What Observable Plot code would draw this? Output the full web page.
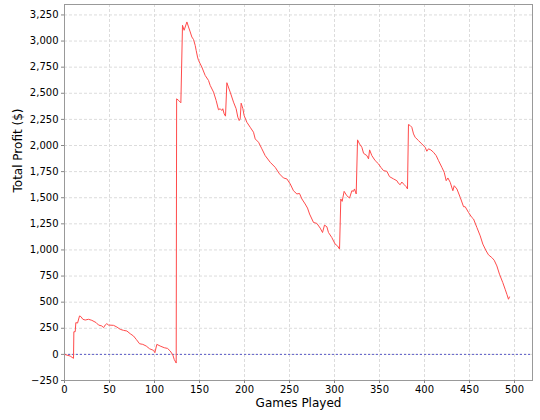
<!DOCTYPE html>
<html>
<head>
<meta charset="utf-8">
<script src="https://cdn.jsdelivr.net/npm/d3@7"></script>
<script src="https://cdn.jsdelivr.net/npm/@observablehq/plot@0.6"></script>
<style>
  html, body { margin: 0; padding: 0; background: #fff; }
  #chart { width: 540px; height: 420px; }
</style>
</head>
<body>
<div id="chart"></div>
<script>
const games = [0,6.3,10,10.4,11.9,12.6,14.5,16.7,18.2,20.4,23,26.7,30.4,35.2,37.8,41.5,43.4,45.2,47,48.9,54.5,58.2,61.9,65.6,69.3,73,76.7,79.7,83.4,87,90.8,94.5,99,100.4,102.6,106.3,110.8,114.5,117.5,120.4,121.9,124.1,
  124.6,127,129.3,131.1,132.9,136,137.8,139.7,141.5,143.4,145.2,146.3,147.8,148.9,152.6,156.3,160,161.9,165.6,168.5,171.1,173,174.8,175.9,177.4,178.9,180.4,184.1,187.8,190.7,192.6,194.1,195.2,196.3,198.2,199.6,202.6,206.3,210,211.9,215.6,219.3,223,228.6,234.1,238.9,243.3,247.1,250.8,254.4,258.2,261.1,263.8,267.4,270,272.3,276.7,280.4,284.1,286.7,288.9,291.5,293.3,297,300.7,303.3,305.6,
  307,308.5,310.7,313.7,316.7,319.3,321.1,322.2,324.1,325.6,327.8,330.4,332.3,336,337.8,339,341.5,345.2,348.9,351.5,354.5,358.2,361.1,365.6,369.3,371.1,373,374.8,377.4,379.6,381.1,
  382.2,384.1,385.9,387.8,389.6,393.3,397,400.7,402.6,404.4,407,410,413,415.6,419.3,421.9,424.1,426,428.6,431.5,433,436,439.7,443.4,445.2,448.9,452.6,454.5,458.2,461.9,464.8,468.5,471.1,474.8,477.4,480.4,483.3,487,489.6,491.5,493.3,494.4];
const profit = [0,-16,-38,217,217,304,300,368,362,336,329,336,326,304,281,272,256,281,294,281,278,262,240,230,224,198,176,144,102,96,80,54,38,16,96,80,64,57,32,-6,-48,-83,
  2447,2430,2409,3151,3103,3183,3135,3087,3039,3014,2959,2911,2847,2815,2751,2671,2623,2575,2511,2431,2342,2352,2335,2352,2303,2281,2601,2511,2415,2352,2271,2239,2255,2405,2352,2287,2223,2175,2127,2063,2031,1968,1903,1839,1791,1728,1689,1680,1632,1567,1536,1541,1488,1440,1401,1344,1263,1254,1209,1167,1238,1222,1167,1119,1056,1039,1008,
  1488,1465,1561,1519,1497,1567,1561,1584,1536,2054,2015,1983,1925,1903,1872,1958,1903,1855,1824,1791,1759,1753,1702,1680,1663,1637,1625,1650,1625,1606,1584,
  2201,2191,2175,2111,2079,2047,2015,1983,1945,1968,1958,1935,1903,1855,1791,1743,1663,1689,1647,1567,1615,1584,1503,1414,1414,1359,1311,1296,1215,1135,1056,991,953,927,902,847,768,687,624,576,528,550];
const xTicks = [0,50,100,150,200,250,300,350,400,450,500];
const yTicks = [-250,0,250,500,750,1000,1250,1500,1750,2000,2250,2500,2750,3000,3250];
const xTitle = "Games Played";
const yTitle = "Total Profit ($)";

const data = games.map((g, i) => ({game: g, profit: profit[i]}));
const fmt = d3.format(",");

const chart = Plot.plot({
  width: 540,
  height: 420,
  marginLeft: 64,
  marginRight: 8,
  marginTop: 4,
  marginBottom: 40,
  style: {fontFamily: "DejaVu Sans", fontSize: "10px", color: "#000", background: "#fff"},
  x: {domain: [0, 520]},
  y: {domain: [-250, 3350]},
  marks: [
    Plot.gridX(xTicks, {stroke: "#dcdcdc", strokeOpacity: 1, strokeDasharray: "3,2"}),
    Plot.gridY(yTicks, {stroke: "#dcdcdc", strokeOpacity: 1, strokeDasharray: "3,2"}),
    Plot.ruleY([0], {stroke: "#5c5cc8", strokeDasharray: "2,2"}),
    Plot.line(data, {x: "game", y: "profit", stroke: "#ff4b4b", strokeWidth: 1}),
    Plot.frame({stroke: "#999"}),
    Plot.axisX(xTicks, {tickSize: 3, tickPadding: 2, stroke: "#888", label: null, fill: "#000"}),
    Plot.axisY(yTicks, {tickSize: 3, tickPadding: 3, stroke: "#888", label: null, tickFormat: fmt, fill: "#000"}),
    Plot.text([xTitle], {frameAnchor: "bottom", dy: 26, fontSize: 12, fill: "#000"}),
    Plot.text([yTitle], {frameAnchor: "left", dx: -46, rotate: -90, fontSize: 12, fill: "#000"})
  ]
});
document.getElementById("chart").appendChild(chart);
</script>
</body>
</html>
